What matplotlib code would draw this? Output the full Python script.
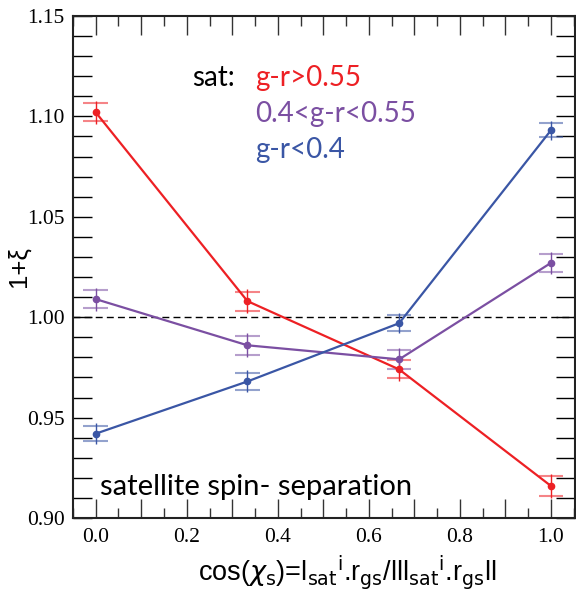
import matplotlib
matplotlib.use("Agg")
import matplotlib.pyplot as plt
from matplotlib.ticker import MultipleLocator, FuncFormatter

# --- data ---
cos_chi = [0.0, 1/3, 2/3, 1.0]
red_vals = [1.102, 1.008, 0.974, 0.916]
red_err = [0.0045, 0.0047, 0.0045, 0.0048]
purple_vals = [1.009, 0.986, 0.979, 1.027]
purple_err = [0.0045, 0.0048, 0.0047, 0.0045]
blue_vals = [0.942, 0.968, 0.997, 1.093]
blue_err = [0.0039, 0.0043, 0.0039, 0.0035]

series_labels = ["g-r>0.55", "0.4<g-r<0.55", "g-r<0.4"]
series_colors = ["#ed2024", "#7b4fa2", "#3a56a5"]

# --- figure ---
fig = plt.figure(figsize=(5.76, 5.91), dpi=100)
ax = fig.add_axes([0.1267, 0.1235, 0.8715, 0.8495])

half_w = 0.027
for vals, errs, col in zip([red_vals, purple_vals, blue_vals],
                           [red_err, purple_err, blue_err], series_colors):
    ax.plot(cos_chi, vals, color=col, lw=1.6, marker="o", ms=4.5, zorder=3)
    ax.errorbar(cos_chi, vals, yerr=[e + 0.0012 for e in errs], fmt="none",
                ecolor=col, elinewidth=1.0, zorder=2)
    for xv, yv, e in zip(cos_chi, vals, errs):
        ax.hlines([yv - e, yv + e], xv - half_w, xv + half_w, colors=col,
                  lw=1.5, alpha=0.55, zorder=2)

ax.axhline(1.0, color="black", lw=1.0, dashes=(5, 3), zorder=1)

ax.set_xlim(-0.05, 1.053)
ax.set_ylim(0.90, 1.15)

# ticks
ax.xaxis.set_major_locator(MultipleLocator(0.1))
ax.xaxis.set_minor_locator(MultipleLocator(0.05))
ax.xaxis.set_major_formatter(FuncFormatter(
    lambda v, p: f"{v:.1f}" if abs(round(v / 0.2) * 0.2 - v) < 1e-6 else ""))
ax.yaxis.set_major_locator(MultipleLocator(0.05))
ax.yaxis.set_minor_locator(MultipleLocator(0.01))
ax.yaxis.set_major_formatter(FuncFormatter(lambda v, p: f"{v:.2f}"))

ax.tick_params(axis="x", which="major", direction="in", length=14, width=1.0,
               top=True, pad=7, labelsize=15.5, colors="#333333",
               labelcolor="black")
ax.tick_params(axis="x", which="minor", direction="in", length=7, width=1.0,
               top=True, colors="#333333")
ax.tick_params(axis="y", which="both", direction="in", length=14, width=1.0,
               right=True, pad=6, labelsize=15.5, colors="black")
for lab in ax.get_xticklabels() + ax.get_yticklabels():
    lab.set_fontfamily("Liberation Serif")

for sp in ax.spines.values():
    sp.set_linewidth(1.5)
    sp.set_color("#222222")

# labels
ax.set_ylabel("1+ξ", fontsize=18.5, family="Liberation Sans")
ax.yaxis.set_label_coords(-0.084, 0.5)
plt.rcParams["mathtext.fontset"] = "custom"
plt.rcParams["mathtext.rm"] = "Liberation Sans"
plt.rcParams["mathtext.it"] = "Liberation Sans:italic"
ax.set_xlabel(r"cos($\chi_{\rm s}$)=l$_{\rm sat}$$^{\rm i}$.r$_{\rm gs}$/lll$_{\rm sat}$$^{\rm i}$.r$_{\rm gs}$ll",
              fontsize=19.5, family="Liberation Sans")
ax.xaxis.set_label_coords(0.546, -0.071)

# in-plot text
ax.text(0.238, 0.861, "sat:", transform=ax.transAxes, fontsize=20,
        family="Lato", color="black")
y_txt = [0.861, 0.789, 0.717]
for lab, col, yy in zip(series_labels, series_colors, y_txt):
    ax.text(0.362, yy, lab, transform=ax.transAxes, fontsize=20,
            family="Lato", color=col)
ax.text(0.053, 0.046, "satellite spin- separation", transform=ax.transAxes,
        fontsize=21, family="Lato", color="black")

fig.savefig("out.png", dpi=100)
